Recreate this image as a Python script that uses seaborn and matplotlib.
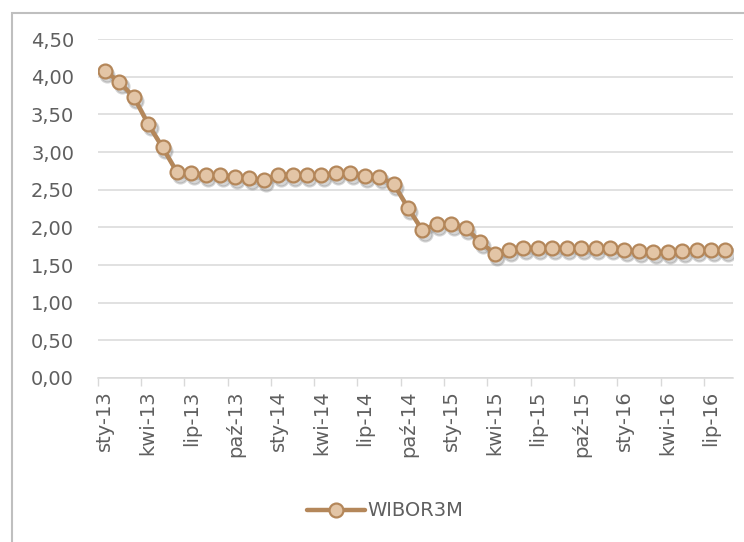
import matplotlib
matplotlib.use('Agg')
import matplotlib.pyplot as plt
import matplotlib.transforms as mtransforms
from matplotlib.patches import Rectangle
import seaborn as sns
import pandas as pd
import numpy as np

# monthly WIBOR 3M, Jan 2013 - Aug 2016
months = ['sty-13', 'lut-13', 'mar-13', 'kwi-13', 'maj-13', 'cze-13',
          'lip-13', 'sie-13', 'wrz-13', 'paź-13', 'lis-13', 'gru-13',
          'sty-14', 'lut-14', 'mar-14', 'kwi-14', 'maj-14', 'cze-14',
          'lip-14', 'sie-14', 'wrz-14', 'paź-14', 'lis-14', 'gru-14',
          'sty-15', 'lut-15', 'mar-15', 'kwi-15', 'maj-15', 'cze-15',
          'lip-15', 'sie-15', 'wrz-15', 'paź-15', 'lis-15', 'gru-15',
          'sty-16', 'lut-16', 'mar-16', 'kwi-16', 'maj-16', 'cze-16',
          'lip-16', 'sie-16']
wibor3m = [4.08, 3.93, 3.73, 3.37, 3.06, 2.73,
           2.72, 2.69, 2.70, 2.67, 2.65, 2.63,
           2.70, 2.70, 2.70, 2.70, 2.72, 2.72,
           2.68, 2.67, 2.58, 2.26, 1.96, 2.05,
           2.05, 1.99, 1.81, 1.65, 1.70, 1.72,
           1.72, 1.72, 1.72, 1.72, 1.72, 1.72,
           1.70, 1.68, 1.67, 1.67, 1.69, 1.70,
           1.70, 1.70]
tick_labels = ['sty-13', 'kwi-13', 'lip-13', 'paź-13', 'sty-14', 'kwi-14',
               'lip-14', 'paź-14', 'sty-15', 'kwi-15', 'lip-15', 'paź-15',
               'sty-16', 'kwi-16', 'lip-16']
y_ticks = [0, 0.5, 1, 1.5, 2, 2.5, 3, 3.5, 4, 4.5]

LINE = '#B4875A'
FACE = '#E3C5A6'
TEXT = '#5f5f5f'
GRID = '#D9D9D9'

sns.set_theme(style='white')
plt.rcParams['font.family'] = ['DejaVu Sans']

df = pd.DataFrame({'idx': np.arange(len(months)), 'miesiac': months, 'WIBOR3M': wibor3m})

fig = plt.figure(figsize=(7.44, 5.42), dpi=100)
ax = fig.add_axes([0.1313, 0.3026, 0.8535, 0.6254])

# soft drop shadow under the series
shadow = mtransforms.offset_copy(ax.transData, fig=fig, x=2.5, y=-4, units='dots')
sns.lineplot(data=df, x='idx', y='WIBOR3M', ax=ax, color='#888888', alpha=0.35,
             linewidth=3.2, marker='o', markersize=10, markeredgewidth=1.6,
             markeredgecolor='#888888', markerfacecolor='#888888',
             transform=shadow, legend=False, zorder=2)
sns.lineplot(data=df, x='idx', y='WIBOR3M', ax=ax, color=LINE, linewidth=3.2,
             marker='o', markersize=10, markerfacecolor=FACE,
             markeredgecolor=LINE, markeredgewidth=1.6, label='WIBOR3M', zorder=3)

ax.set_xlim(-0.5, len(months) - 0.5)
ax.set_ylim(0, 4.5)
ax.set_yticks(y_ticks)
ax.set_yticklabels([f'{v:.2f}'.replace('.', ',') for v in y_ticks])
ax.yaxis.grid(True, color=GRID, linewidth=1.1)
ax.set_axisbelow(True)

# ticks on category boundaries, labels in the middle of every 3rd category
label_pos = [months.index(m) for m in tick_labels]
ax.set_xticks([p - 0.5 for p in label_pos])
ax.set_xticklabels([])
ax.set_xticks(label_pos, minor=True)
ax.set_xticklabels(tick_labels, minor=True, rotation=90)
ax.tick_params(axis='x', which='major', length=6, width=1, color=GRID, bottom=True)
ax.tick_params(axis='x', which='minor', length=0, pad=9, labelsize=14, labelcolor=TEXT)
ax.tick_params(axis='y', length=0, pad=17, labelsize=14, labelcolor=TEXT)

ax.set_xlabel('')
ax.set_ylabel('')
for s in ['top', 'right', 'left']:
    ax.spines[s].set_visible(False)
ax.spines['bottom'].set_color(GRID)
ax.spines['bottom'].set_linewidth(1.1)

leg = ax.legend(loc='center', bbox_to_anchor=(385 / 744, 1 - 511 / 542),
                bbox_transform=fig.transFigure, frameon=False, fontsize=14,
                handlelength=3.0, handletextpad=0.1, numpoints=1)
for t in leg.get_texts():
    t.set_color(TEXT)

# chart area border
fig.patches.append(Rectangle((11.7 / 744, -0.1), 1.2, 1.1 - 12.7 / 542,
                             transform=fig.transFigure, fill=False,
                             edgecolor='#BFBFBF', linewidth=1.5))

fig.savefig('out.png', dpi=100)
